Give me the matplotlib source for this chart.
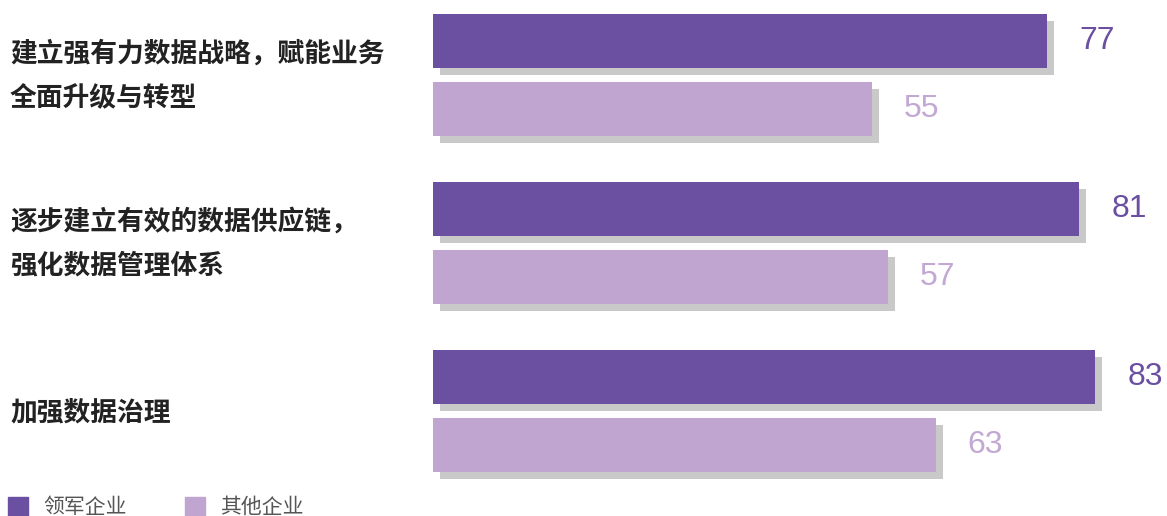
import matplotlib
matplotlib.use("Agg")
import matplotlib.pyplot as plt
import matplotlib.patheffects as pe
from matplotlib.patches import Rectangle

plt.rcParams['font.family'] = ['Noto Sans CJK SC', 'DejaVu Sans']

# survey data
categories = ["建立强有力数据战略，赋能业务\n全面升级与转型",
              "逐步建立有效的数据供应链，\n强化数据管理体系",
              "加强数据治理"]
leaders = [77, 81, 83]
others = [55, 57, 63]
series_names = ["领军企业", "其他企业"]

dark = '#6b4fa0'
light = '#bfa5d0'
shadow = '#c9c9c9'

W, H = 1167, 516
fig = plt.figure(figsize=(W / 100, H / 100), dpi=100)

# layout in pixels
x0 = 433          # where value 0 sits
px_per_unit = 7.98
top = 41          # centre of the first dark bar
group_gap = 168
pair_gap = 68
bar_h = 54

ax = fig.add_axes([x0 / W, 0, (W - x0) / W, 1])
ax.set_xlim(0, (W - x0) / px_per_unit)
ax.set_ylim(H, 0)
ax.axis('off')

# overlay axes in plain pixel coords for the labels and legend
ov = fig.add_axes([0, 0, 1, 1], zorder=-1)
ov.set_xlim(0, W)
ov.set_ylim(H, 0)
ov.axis('off')

shadow_fx = [pe.SimplePatchShadow(offset=(5, -5), shadow_rgbFace=shadow, alpha=1.0),
             pe.Normal()]

num_font = ['Liberation Sans', 'DejaVu Sans']
for i, (cat, a, b) in enumerate(zip(categories, leaders, others)):
    y1 = top + group_gap * i
    y2 = y1 + pair_gap
    r1 = ax.barh(y1, a, height=bar_h, color=dark)
    r2 = ax.barh(y2, b, height=bar_h, color=light)
    for bars in (r1, r2):
        for p in bars:
            p.set_path_effects(shadow_fx)
    ax.annotate(str(a), (a, y1), xytext=(23, 0), textcoords='offset points',
                ha='left', va='center', fontsize=23, color=dark,
                family=num_font, annotation_clip=False)
    ax.annotate(str(b), (b, y2), xytext=(23, 0), textcoords='offset points',
                ha='left', va='center', fontsize=23, color='#c2a8d3',
                family=num_font, annotation_clip=False)
    ov.text(10, (y1 + y2) / 2 + 1, cat, ha='left', va='center', fontsize=19.3,
            color='#222222', fontweight='bold', linespacing=1.72)

# legend
for lx, col, name in [(8, dark, series_names[0]), (185, light, series_names[1])]:
    ov.add_patch(Rectangle((lx, 497), 20, 22, color=col, clip_on=False))
    ov.text(lx + 35, 507, name, ha='left', va='center', fontsize=15,
            color='#555555')

fig.savefig('out.png', dpi=100)
